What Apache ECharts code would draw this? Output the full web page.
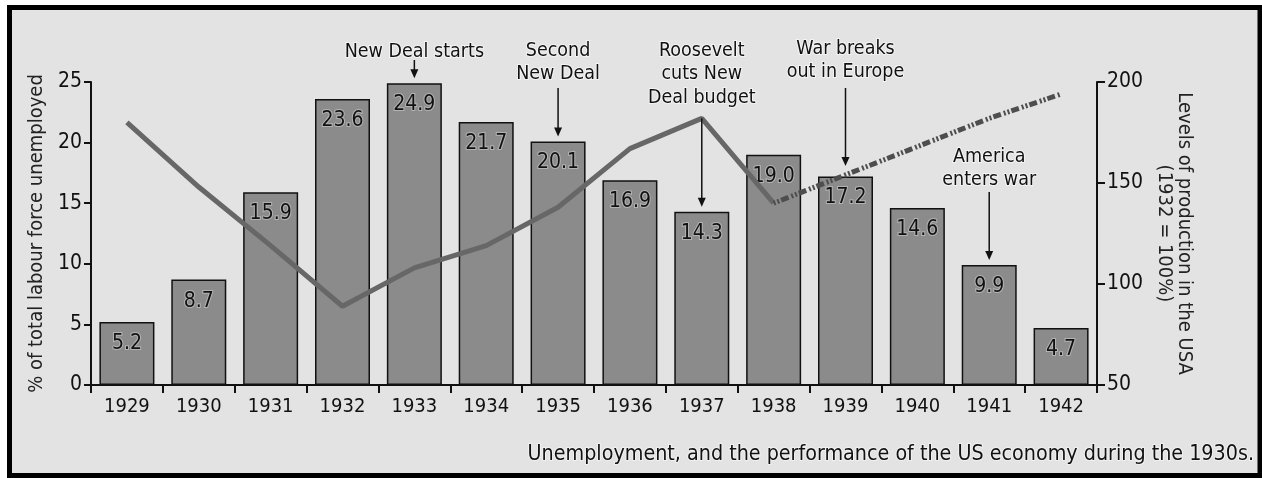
<!DOCTYPE html>
<html>
<head>
<meta charset="utf-8">
<script src="https://cdn.jsdelivr.net/npm/echarts@6/dist/echarts.min.js"></script>
<style>
  html, body { margin: 0; padding: 0; background: #ffffff; }
  #chart { width: 1262px; height: 478px; }
</style>
</head>
<body>
<div id="chart"></div>
<script>
// ---------- data ----------
const years = ['1929','1930','1931','1932','1933','1934','1935','1936','1937','1938','1939','1940','1941','1942'];
const unemployment = [5.2, 8.7, 15.9, 23.6, 24.9, 21.7, 20.1, 16.9, 14.3, 19.0, 17.2, 14.6, 9.9, 4.7];
const production = [180, 148, 119, 89, 108, 119, 138, 167, 182, 140, null, null, null, null];
const productionProjected = [null, null, null, null, null, null, null, null, null, 140, 154, 168, 182, 194];
const leftAxisTitle = '% of total labour force unemployed';
const rightAxisTitle = 'Levels of production in the USA\n(1932 = 100%)';
const caption = 'Unemployment, and the performance of the US economy during the 1930s.';
const annotationYears = ['1933', '1935', '1937', '1939', '1941'];
const annotationTexts = ['New Deal starts', 'Second\nNew Deal', 'Roosevelt\ncuts New\nDeal budget', 'War breaks\nout in Europe', 'America\nenters war'];

// ---------- layout / style ----------
const FONT = "'DejaVu Sans Condensed', 'Liberation Sans Narrow', sans-serif";
const annLayout = [
  { textTop: 40, from: 60, to: 'bar' },
  { textTop: 39, from: 88, to: 'bar' },
  { textTop: 39, from: 'line', to: 'bar' },
  { textTop: 37, from: 88, to: 'projected' },
  { textTop: 145, from: 192, to: 'bar' }
];

const chart = echarts.init(document.getElementById('chart'));

const option = {
  backgroundColor: '#ffffff',
  animation: false,
  grid: { left: 91, right: 165, top: 82, bottom: 93, containLabel: false },
  xAxis: {
    type: 'category',
    data: years,
    boundaryGap: true,
    axisLine: { lineStyle: { color: '#111', width: 2 } },
    axisTick: { show: true, length: 8, lineStyle: { color: '#111', width: 2 } },
    axisLabel: { color: '#111', fontSize: 20, fontFamily: FONT, margin: 12 }
  },
  yAxis: [
    {
      type: 'value', min: 0, max: 25, interval: 5, position: 'left',
      name: leftAxisTitle, nameLocation: 'middle', nameGap: 32, nameRotate: 90,
      nameTextStyle: { color: '#222', fontSize: 20, fontFamily: FONT },
      axisLine: { show: true, lineStyle: { color: '#111', width: 2 } },
      axisTick: { show: true, length: 7, lineStyle: { color: '#111', width: 2 } },
      axisLabel: { color: '#111', fontSize: 21, fontFamily: FONT, margin: 9 },
      splitLine: { show: false }
    },
    {
      type: 'value', min: 50, max: 200, interval: 50, position: 'right',
      name: rightAxisTitle, nameLocation: 'middle', nameGap: 43, nameRotate: -90,
      nameTextStyle: { color: '#222', fontSize: 20, fontFamily: FONT, lineHeight: 20 },
      axisLine: { show: true, lineStyle: { color: '#111', width: 2 } },
      axisTick: { show: true, length: 8, lineStyle: { color: '#111', width: 2 } },
      axisLabel: { color: '#111', fontSize: 21, fontFamily: FONT, margin: 10 },
      splitLine: { show: false }
    }
  ],
  series: [
    {
      name: 'Unemployment',
      type: 'bar',
      data: unemployment,
      yAxisIndex: 0,
      barWidth: 55,
      itemStyle: { color: '#8b8b8b', borderColor: '#111', borderWidth: 1.5 },
      label: {
        show: true, position: 'insideTop', distance: 11,
        color: '#111', fontSize: 21, fontFamily: FONT,
        textBorderColor: 'rgba(255,255,255,0.35)', textBorderWidth: 2,
        formatter: p => p.value.toFixed(1)
      },
      z: 2
    },
    {
      name: 'Production',
      type: 'line',
      data: production,
      yAxisIndex: 1,
      symbol: 'none',
      lineStyle: { color: '#676767', width: 5 },
      z: 5
    },
    {
      name: 'Production (projected)',
      type: 'line',
      data: productionProjected,
      yAxisIndex: 1,
      symbol: 'none',
      lineStyle: { color: '#4e4e4e', width: 5, type: [2, 2, 2, 2, 8, 3] },
      z: 5
    }
  ],
  graphic: []
};

chart.setOption(option);

// ---------- annotations, placed via the chart's own scales ----------
const g = [];
g.push({
  type: 'rect', z: -10, silent: true,
  shape: { x: 9.5, y: 7.5, width: 1250.5, height: 468 },
  style: { fill: '#e3e3e3', stroke: '#000', lineWidth: 5 }
});
g.push({
  type: 'text', z: 10, silent: true,
  style: {
    text: caption, x: 1254, y: 454, align: 'right', verticalAlign: 'middle',
    fill: '#111', font: '21.3px ' + FONT,
    stroke: 'rgba(255,255,255,0.5)', lineWidth: 2
  }
});

annotationYears.forEach((yr, i) => {
  const idx = years.indexOf(yr);
  const L = annLayout[i];
  const cx = chart.convertToPixel({ xAxisIndex: 0, yAxisIndex: 0 }, [yr, 0])[0];
  let tipY;
  if (L.to === 'bar') {
    tipY = chart.convertToPixel({ xAxisIndex: 0, yAxisIndex: 0 }, [yr, unemployment[idx]])[1] - 5;
  } else {
    tipY = chart.convertToPixel({ xAxisIndex: 0, yAxisIndex: 1 }, [yr, productionProjected[idx]])[1] - 9;
  }
  let fromY = L.from;
  if (L.from === 'line') {
    fromY = chart.convertToPixel({ xAxisIndex: 0, yAxisIndex: 1 }, [yr, production[idx]])[1];
  }
  g.push({
    type: 'text', z: 10, silent: true,
    style: {
      text: annotationTexts[i], x: cx, y: L.textTop, align: 'center', verticalAlign: 'top',
      fill: '#111', font: '19.5px ' + FONT, lineHeight: 23.5,
      stroke: 'rgba(255,255,255,0.6)', lineWidth: 2
    }
  });
  g.push({
    type: 'line', z: 10, silent: true,
    shape: { x1: cx, y1: fromY, x2: cx, y2: tipY - 7 },
    style: { stroke: '#111', lineWidth: 1.5 }
  });
  g.push({
    type: 'polygon', z: 10, silent: true,
    shape: { points: [[cx - 4, tipY - 9], [cx + 4, tipY - 9], [cx, tipY]] },
    style: { fill: '#111' }
  });
});

chart.setOption({ graphic: g });
</script>
</body>
</html>
